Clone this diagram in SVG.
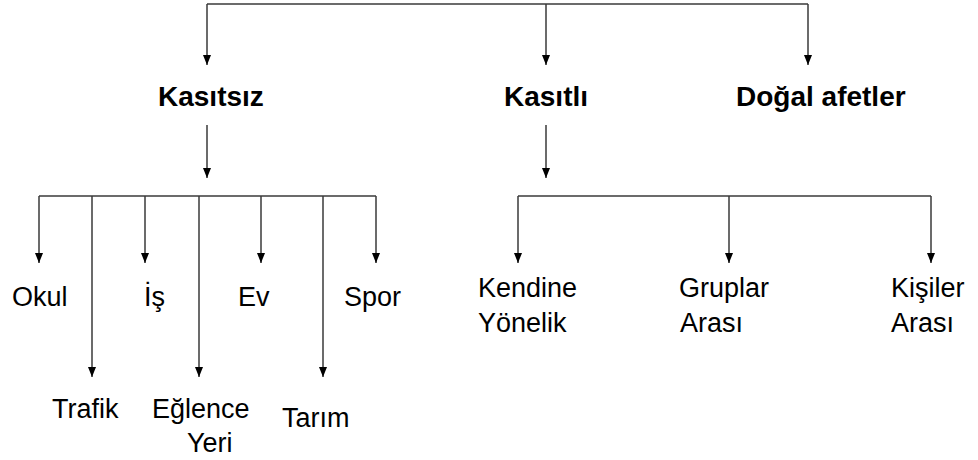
<svg xmlns="http://www.w3.org/2000/svg" width="978" height="460" viewBox="0 0 978 460">
<defs>
<marker id="ah" markerWidth="10" markerHeight="8" refX="10" refY="4" orient="auto" markerUnits="userSpaceOnUse" viewBox="0 0 10 8">
<path d="M0,0 L10,4 L0,8 Z" fill="#000"/>
</marker>
<style>
.c{fill:none;stroke:#3a3a3a;stroke-width:1.5}
.a{marker-end:url(#ah)}
.b{font-family:"Liberation Sans",Arial,sans-serif;font-weight:bold;font-size:28px;fill:#000}
.r{font-family:"Liberation Sans",Arial,sans-serif;font-size:27px;fill:#000}
</style>
</defs>
<rect width="978" height="460" fill="#fff"/>
<g id="connectors">
<path class="c" d="M207,4 H808"/>
<path class="c a" d="M207,4 V65"/>
<path class="c a" d="M546,4 V65"/>
<path class="c a" d="M808,4 V65"/>
<path class="c a" d="M207,125 V178"/>
<path class="c a" d="M546,125 V178"/>
<path class="c" d="M39,196 H376"/>
<path class="c a" d="M39,196 V263"/>
<path class="c a" d="M92,196 V377"/>
<path class="c a" d="M145,196 V263"/>
<path class="c a" d="M199,196 V377"/>
<path class="c a" d="M261,196 V263"/>
<path class="c a" d="M323,196 V377"/>
<path class="c a" d="M376,196 V263"/>
<path class="c" d="M518,196 H931"/>
<path class="c a" d="M518,196 V263"/>
<path class="c a" d="M729,196 V263"/>
<path class="c a" d="M931,196 V263"/>
</g>
<g id="kasitsiz"><text class="b" x="158" y="106">Kasıtsız</text></g>
<g id="kasitli"><text class="b" x="504" y="106">Kasıtlı</text></g>
<g id="dogal"><text class="b" x="736" y="106">Doğal afetler</text></g>
<g id="okul"><text class="r" x="12" y="306">Okul</text></g>
<g id="is"><text class="r" x="144" y="306">İş</text></g>
<g id="ev"><text class="r" x="238" y="306">Ev</text></g>
<g id="spor"><text class="r" x="344" y="306">Spor</text></g>
<g id="trafik"><text class="r" x="52" y="418">Trafik</text></g>
<g id="eglence"><text class="r" x="152" y="418">Eğlence</text><text class="r" x="187" y="452">Yeri</text></g>
<g id="tarim"><text class="r" x="282" y="427">Tarım</text></g>
<g id="kendine"><text class="r" x="478" y="297">Kendine</text><text class="r" x="478" y="332">Yönelik</text></g>
<g id="gruplar"><text class="r" x="679" y="297">Gruplar</text><text class="r" x="680" y="332">Arası</text></g>
<g id="kisiler"><text class="r" x="891" y="297">Kişiler</text><text class="r" x="891" y="332">Arası</text></g>
</svg>
